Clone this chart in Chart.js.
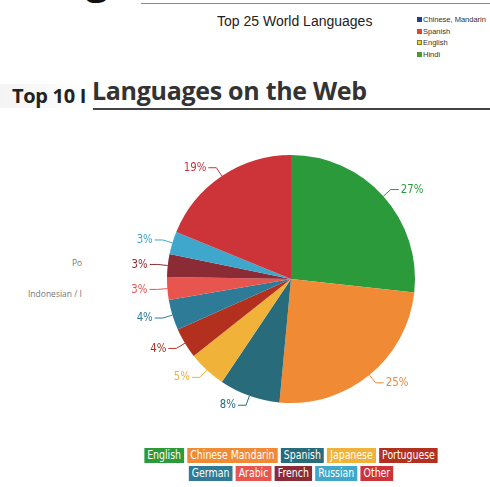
<!DOCTYPE html>
<html>
<head>
<meta charset="utf-8">
<script src="https://cdn.jsdelivr.net/npm/chart.js@4/dist/chart.umd.min.js"></script>
<style>
  body { margin: 0; background: #fff; width: 490px; height: 487px; overflow: hidden; position: relative; font-family: "Open Sans", sans-serif; }
  .abs { position: absolute; white-space: nowrap; }
  #topRule { left: 141px; top: 3px; width: 349px; height: 1px; background: #8a8a8a; }
  #topGlyph { left: 86px; top: -49px; font: bold 40px "Open Sans", sans-serif; color: #111; }
  #worldTitle { left: 217px; top: 13px; font: 14px "Liberation Sans", Arial, sans-serif; color: #222; }
  #worldLegend { left: 417px; top: 14px; font: 7.5px "Liberation Sans", Arial, sans-serif; color: #333; line-height: 11.7px; height: 48px; overflow: hidden; }
  #worldLegend span.sw { display: inline-block; width: 5px; height: 5px; margin-right: 1px; vertical-align: 0px; box-sizing: border-box; }
  #fadeBox { left: 0; top: 84px; width: 90px; height: 24px; background: linear-gradient(to right, #f4f4f4, #fbfbfb 70%, #fff); }
  #top10 { left: 12px; top: 82px; font: bold 20px "Open Sans", sans-serif; letter-spacing: -0.3px; color: #222; }
  #webTitle { left: 92px; top: 73px; font: bold 25px "Open Sans", sans-serif; letter-spacing: -0.3px; color: #333; }
  #webRule { left: 93px; top: 108px; width: 397px; height: 2px; background: #444; }
  .side { font: 8.5px "Open Sans", sans-serif; color: #777; }
  #chartBox { left: 101px; top: 119px; width: 380px; height: 320px; }
  #legend { left: 46px; width: 490px; top: 448px; text-align: center; font: 12px "DejaVu Sans", sans-serif; transform: scaleX(0.78); transform-origin: 50% 0; }
  .row { height: 18px; }
  .item { display: inline-block; color: #fff; padding: 0 4px; height: 15px; line-height: 15px; margin: 0 2px; }
</style>
</head>
<body>

<div id="topRule" class="abs"></div>
<div id="topGlyph" class="abs">g</div>
<div id="worldTitle" class="abs">Top 25 World Languages</div>
<div id="worldLegend" class="abs"></div>

<div id="fadeBox" class="abs"></div>
<div id="top10" class="abs">Top 10 I</div>
<div id="webTitle" class="abs">Languages on the Web</div>
<div id="webRule" class="abs"></div>

<div class="abs side" style="left:72px; top:257px;">Po</div>
<div class="abs side" style="left:28px; top:288px;">Indonesian / I</div>

<div id="chartBox" class="abs"><canvas id="pie" width="380" height="320"></canvas></div>
<div id="legend" class="abs"></div>

<script>
// =====================
// DATA
// =====================
const languages = ["English", "Chinese Mandarin", "Spanish", "Japanese", "Portuguese",
                   "German", "Arabic", "French", "Russian", "Other"];
const shares = [27, 25, 8, 5, 4, 4, 3, 3, 3, 19];
const sliceColors = ["#2a9a3b", "#f08a35", "#286b7b", "#f1b23a", "#b3301f",
                     "#2d7b97", "#e8554f", "#8a2b36", "#3fa7cb", "#cc3439"];

const worldNames = ["Chinese, Mandarin", "Spanish", "English", "Hindi"];
const worldColors = ["#1f3f8f", "#e0452a", "#f2d22e", "#4c9a2a"];

// =====================
// SMALL LEGEND (top right)
// =====================
const worldLegend = document.getElementById("worldLegend");
worldNames.forEach((name, i) => {
    const div = document.createElement("div");
    const border = name === "English" ? "border:1px solid #8a7a20;" : "";
    div.innerHTML = `<span class="sw" style="background:${worldColors[i]};${border}"></span>${name}`;
    worldLegend.appendChild(div);
});

// =====================
// OUTSIDE LABELS WITH LEADER LINES
// =====================
const leaderLabels = {
    id: "leaderLabels",
    afterDatasetsDraw(chart) {
        const ctx = chart.ctx;
        const meta = chart.getDatasetMeta(0);
        ctx.save();
        ctx.font = '12px "DejaVu Sans", sans-serif';
        ctx.textBaseline = "middle";
        ctx.lineWidth = 1;
        meta.data.forEach((arc, i) => {
            const mid = (arc.startAngle + arc.endAngle) / 2;
            const r = arc.outerRadius;
            const x0 = arc.x + Math.cos(mid) * r;
            const y0 = arc.y + Math.sin(mid) * r;
            const x1 = arc.x + Math.cos(mid) * (r + 10);
            const y1 = arc.y + Math.sin(mid) * (r + 10);
            const right = Math.cos(mid) >= 0;
            const x2 = x1 + (right ? 8 : -8);
            ctx.strokeStyle = sliceColors[i];
            ctx.fillStyle = sliceColors[i];
            ctx.beginPath();
            ctx.moveTo(x0, y0);
            ctx.lineTo(x1, y1);
            ctx.lineTo(x2, y1);
            ctx.stroke();
            // squeeze the text a bit so it reads as a condensed face
            ctx.save();
            ctx.translate(x2 + (right ? 2 : -2), y1);
            ctx.scale(0.85, 1);
            ctx.textAlign = right ? "left" : "right";
            ctx.fillText(shares[i] + "%", 0, 0);
            ctx.restore();
        });
        ctx.restore();
    }
};

// =====================
// PIE CHART
// =====================
new Chart(document.getElementById("pie"), {
    type: "pie",
    data: {
        labels: languages,
        datasets: [{
            data: shares,
            backgroundColor: sliceColors,
            borderWidth: 0
        }]
    },
    options: {
        responsive: false,
        animation: false,
        layout: { padding: { left: 66, right: 66, top: 36, bottom: 36 } },
        plugins: {
            legend: { display: false },
            tooltip: { enabled: false }
        }
    },
    plugins: [leaderLabels]
});

// =====================
// COLOURED LEGEND (bottom)
// =====================
const legendBox = document.getElementById("legend");
[languages.slice(0, 5), languages.slice(5)].forEach((names, r) => {
    const row = document.createElement("div");
    row.className = "row";
    names.forEach((name, j) => {
        const span = document.createElement("span");
        span.className = "item";
        span.textContent = name;
        span.style.background = sliceColors[r * 5 + j];
        row.appendChild(span);
    });
    legendBox.appendChild(row);
});
</script>
</body>
</html>
